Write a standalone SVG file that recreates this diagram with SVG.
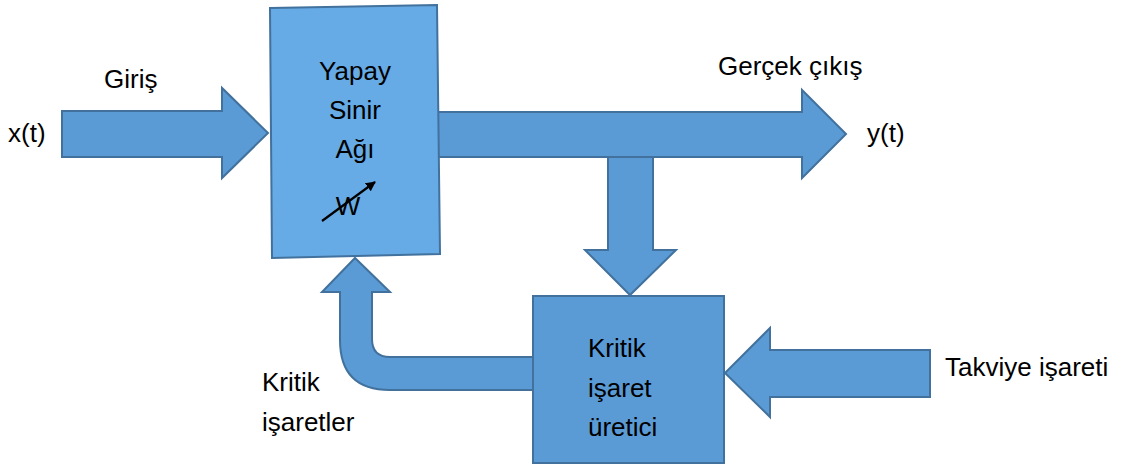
<svg xmlns="http://www.w3.org/2000/svg" width="1134" height="466" viewBox="0 0 1134 466">
  <style>
    .shape { fill: #5b9bd5; stroke: #41719c; stroke-width: 2; stroke-linejoin: miter; }
    .nn { fill: #66abe6; stroke: #41719c; stroke-width: 2; }
    .lbl { font-family: "Liberation Sans", Arial, sans-serif; font-size: 26px; fill: #000; }
  </style>
  <defs>
    <marker id="wHead" viewBox="0 0 10 10" refX="9" refY="5" markerWidth="4.5" markerHeight="4.5" orient="auto">
      <path d="M0,0 L10,5 L0,10 z" fill="#000"/>
    </marker>
  </defs>

  <rect width="1134" height="466" fill="#fff"/>

  <!-- connectors (block arrows) -->
  <g id="connectors">
    <!-- input x(t) -->
    <path class="shape" d="M62,111 L222,111 L222,88 L268,133 L222,178 L222,157 L62,157 Z"/>
    <!-- output y(t) -->
    <path class="shape" d="M438,112 L802,112 L802,90 L846,134 L802,178 L802,157 L438,157 Z"/>
    <!-- branch down to critic generator -->
    <path class="shape" d="M608,157 L653,157 L653,250 L676,250 L630,295 L585,250 L608,250 Z"/>
    <!-- reinforcement signal -->
    <path class="shape" d="M930,350 L770,350 L770,328 L725,373 L770,417 L770,397 L930,397 Z"/>
    <!-- critic feedback (bent arrow) -->
    <path class="shape" d="M533,357 L390,357 Q372,357 372,339 L372,292 L390,292 L355,258 L322,292 L340,292 L340,340 Q340,390 390,390 L533,390 Z"/>
  </g>

  <!-- neural network block -->
  <g id="node-ann">
    <polygon class="nn" points="270,8 437,5 440,254 272,258"/>
    <text class="lbl" x="355" y="80" text-anchor="middle">Yapay</text>
    <text class="lbl" x="355" y="119" text-anchor="middle">Sinir</text>
    <text class="lbl" x="355" y="158" text-anchor="middle">Ağı</text>
    <text class="lbl" x="348" y="215" text-anchor="middle">W</text>
    <line x1="322" y1="221" x2="375" y2="182" stroke="#000" stroke-width="2.2" marker-end="url(#wHead)"/>
  </g>

  <!-- critic signal generator -->
  <g id="node-critic">
    <rect class="shape" x="533" y="296" width="191" height="167"/>
    <text class="lbl" x="588" y="357">Kritik</text>
    <text class="lbl" x="588" y="397">işaret</text>
    <text class="lbl" x="588" y="436">üretici</text>
  </g>

  <!-- labels -->
  <g id="labels">
    <text class="lbl" x="104" y="88">Giriş</text>
    <text class="lbl" x="8" y="142">x(t)</text>
    <text class="lbl" x="718" y="75">Gerçek çıkış</text>
    <text class="lbl" x="867" y="142">y(t)</text>
    <text class="lbl" x="945" y="376">Takviye işareti</text>
    <text class="lbl" x="262" y="391">Kritik</text>
    <text class="lbl" x="262" y="431">işaretler</text>
  </g>
</svg>
